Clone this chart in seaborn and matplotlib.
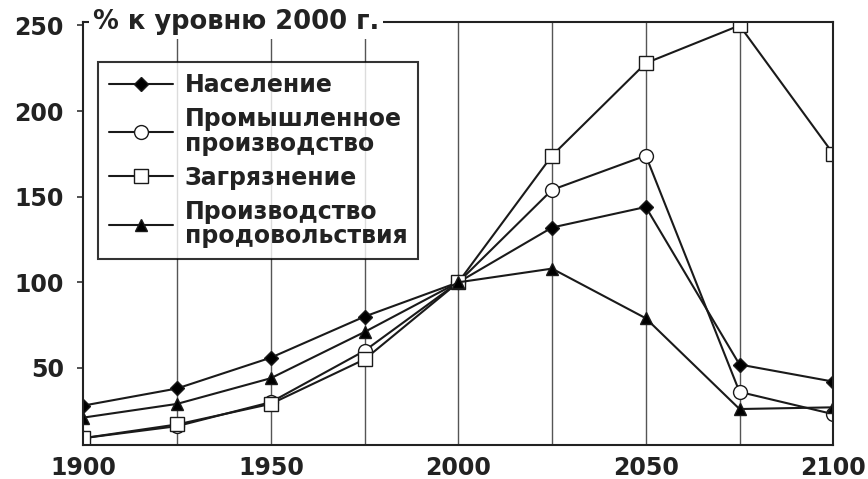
import numpy as np
import pandas as pd
import matplotlib
matplotlib.use("Agg")
import matplotlib.pyplot as plt
import seaborn as sns

years = [1900, 1925, 1950, 1975, 2000, 2025, 2050, 2075, 2100]
population = [28, 38, 56, 80, 100, 132, 144, 52, 42]
industry = [9, 16, 30, 60, 100, 154, 174, 36, 23]
pollution = [9, 17, 29, 55, 100, 174, 228, 250, 175]
food = [21, 29, 44, 71, 100, 108, 79, 26, 27]

labels = ["Население", "Промышленное\nпроизводство", "Загрязнение",
          "Производство\nпродовольствия"]
y_ticks = [50, 100, 150, 200, 250]
x_ticks = [1900, 1950, 2000, 2050, 2100]
grid_years = [1925, 1950, 1975, 2000, 2025, 2050, 2075]
title = "% к уровню 2000 г."

sns.set_theme(style="white")
plt.rcParams["font.family"] = ["DejaVu Sans"]
plt.rcParams["font.weight"] = "bold"

fig = plt.figure(figsize=(8.68, 4.79), dpi=100)
ax = fig.add_axes([0.096, 0.071, 0.864, 0.883])

# vertical grid lines every 25 years
for gy in grid_years:
    ax.axvline(gy, color="#555555", lw=1.0, zorder=0)

series = [population, industry, pollution, food]
styles = [
    dict(marker="D", markerfacecolor="black", markersize=7),
    dict(marker="o", markerfacecolor="white", markersize=10),
    dict(marker="s", markerfacecolor="white", markersize=10),
    dict(marker="^", markerfacecolor="black", markersize=9),
]
for vals, lab, st in zip(series, labels, styles):
    sns.lineplot(x=years, y=vals, ax=ax, color="#1a1a1a", lw=1.5,
                 markeredgecolor="#1a1a1a", markeredgewidth=1.0,
                 label=lab, **st)

ax.set_xlim(1900, 2100)
ax.set_ylim(5, 252)
ax.set_xticks(x_ticks)
ax.set_yticks(y_ticks)
ax.tick_params(axis="y", labelsize=17, length=4, width=1.2,
               direction="out", left=True, color="#333333", pad=10)
ax.tick_params(axis="x", labelsize=17, bottom=False, pad=2)
for t in ax.get_xticklabels() + ax.get_yticklabels():
    t.set_fontweight("bold")
    t.set_color("#222222")
for s in ax.spines.values():
    s.set_color("#222222")
    s.set_linewidth(1.5)
ax.set_xlabel("")
ax.set_ylabel("")

ax.text(0.013, 1.0, title, transform=ax.transAxes, fontsize=18.5,
        fontweight="bold", color="#222222", va="center", ha="left",
        bbox=dict(facecolor="white", edgecolor="none", pad=3), zorder=5)

leg = ax.legend(loc="upper left", bbox_to_anchor=(0.02, 0.905), fontsize=17,
                frameon=True, fancybox=False, handlelength=2.7,
                labelspacing=0.42, borderpad=0.45, handletextpad=0.5,
                borderaxespad=0)
leg.get_frame().set_edgecolor("black")
leg.get_frame().set_linewidth(1.5)
for t in leg.get_texts():
    t.set_fontweight("bold")
    t.set_color("#222222")
    t.set_linespacing(1.05)

fig.savefig("out.png", dpi=100)
